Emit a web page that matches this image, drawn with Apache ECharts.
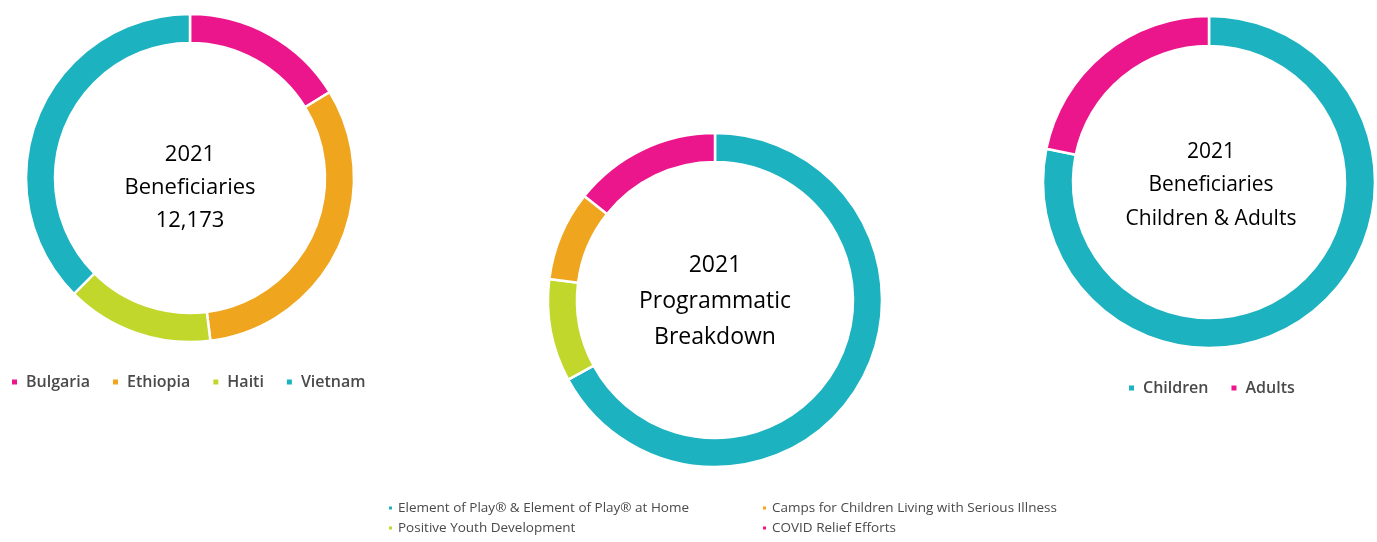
<!DOCTYPE html>
<html><head><meta charset="utf-8">
<script src="https://cdn.jsdelivr.net/npm/echarts@6/dist/echarts.min.js"></script>
<style>html,body{margin:0;padding:0;background:#fff}#c{width:1377px;height:542px}</style>
</head><body><div id="c"></div>
<script>
// Chart 1: 2021 beneficiaries by country (total 12,173)
const countryNames = ['Bulgaria', 'Ethiopia', 'Haiti', 'Vietnam'];
const countryValues = [1975, 3870, 1765, 4563];
// Chart 2: programmatic breakdown (share, %), clockwise order
const programNames = ['Element of Play\u00AE & Element of Play\u00AE at Home', 'Positive Youth Development', 'Camps for Children Living with Serious Illness', 'COVID Relief Efforts'];
const programValues = [67.1, 9.9, 8.7, 14.3];
// Chart 3: children vs adults (share, %)
const groupNames = ['Children', 'Adults'];
const groupValues = [78.2, 21.8];

const TEAL = '#1DB2BF', PINK = '#EC168C', ORANGE = '#EFA51E', GREEN = '#C2D72B';
const countryColors = [PINK, ORANGE, GREEN, TEAL];
const programColors = [TEAL, GREEN, ORANGE, PINK];
const groupColors = [TEAL, PINK];

function mk(names, vals, cols) {
  return names.map((n, i) => ({ name: n, value: vals[i], itemStyle: { color: cols[i] } }));
}
const FONT = 'Open Sans';
const pieBase = {
  type: 'pie', startAngle: 90, clockwise: true, label: { show: false }, labelLine: { show: false },
  silent: true, animation: false,
  itemStyle: { borderColor: '#fff', borderWidth: 2.5 }
};
const legendText = (size, weight, padL) => ({ color: '#4a4a4a', fontFamily: FONT, fontSize: size, fontWeight: weight, padding: [0, 0, 0, padL] });
const centerText = (size, lh) => ({ fontFamily: FONT, fontSize: size, fontWeight: 'normal', color: '#000', lineHeight: lh });

const chart = echarts.init(document.getElementById('c'));
chart.setOption({
  backgroundColor: '#fff',
  animation: false,
  title: [
    { text: '2021\nBeneficiaries\n12,173', left: 190, top: 138, textAlign: 'center', padding: 0, textStyle: centerText(22, 33) },
    { text: '2021\nProgrammatic\nBreakdown', left: 715, top: 247, textAlign: 'center', padding: 0, textStyle: centerText(23, 36) },
    { text: '2021\nBeneficiaries\nChildren & Adults', left: 1211, top: 135, textAlign: 'center', padding: 0, textStyle: centerText(21, 33.5) }
  ],
  legend: [
    { data: countryNames, left: 10, top: 374, padding: 0, icon: 'rect', itemWidth: 7, itemHeight: 7, itemGap: 21,
      textStyle: legendText(16, 600, 3), selectedMode: false },
    { data: [programNames[0], programNames[1]], orient: 'vertical', left: 387, top: 501, padding: 0, icon: 'rect',
      itemWidth: 5, itemHeight: 5, itemGap: 6, textStyle: legendText(13.5, 'normal', 0), selectedMode: false },
    { data: [programNames[2], programNames[3]], orient: 'vertical', left: 761, top: 501, padding: 0, icon: 'rect',
      itemWidth: 5, itemHeight: 5, itemGap: 6, textStyle: legendText(13.5, 'normal', 0), selectedMode: false },
    { data: groupNames, left: 1127, top: 380, padding: 0, icon: 'rect', itemWidth: 7, itemHeight: 7, itemGap: 21,
      textStyle: legendText(16, 600, 3), selectedMode: false }
  ],
  series: [
    Object.assign({}, pieBase, { center: [190, 178], radius: [135, 164], data: mk(countryNames, countryValues, countryColors) }),
    Object.assign({}, pieBase, { center: [715, 300], radius: [138, 167], data: mk(programNames, programValues, programColors) }),
    Object.assign({}, pieBase, { center: [1209, 182], radius: [136, 166], data: mk(groupNames, groupValues, groupColors) })
  ]
});
</script></body></html>
